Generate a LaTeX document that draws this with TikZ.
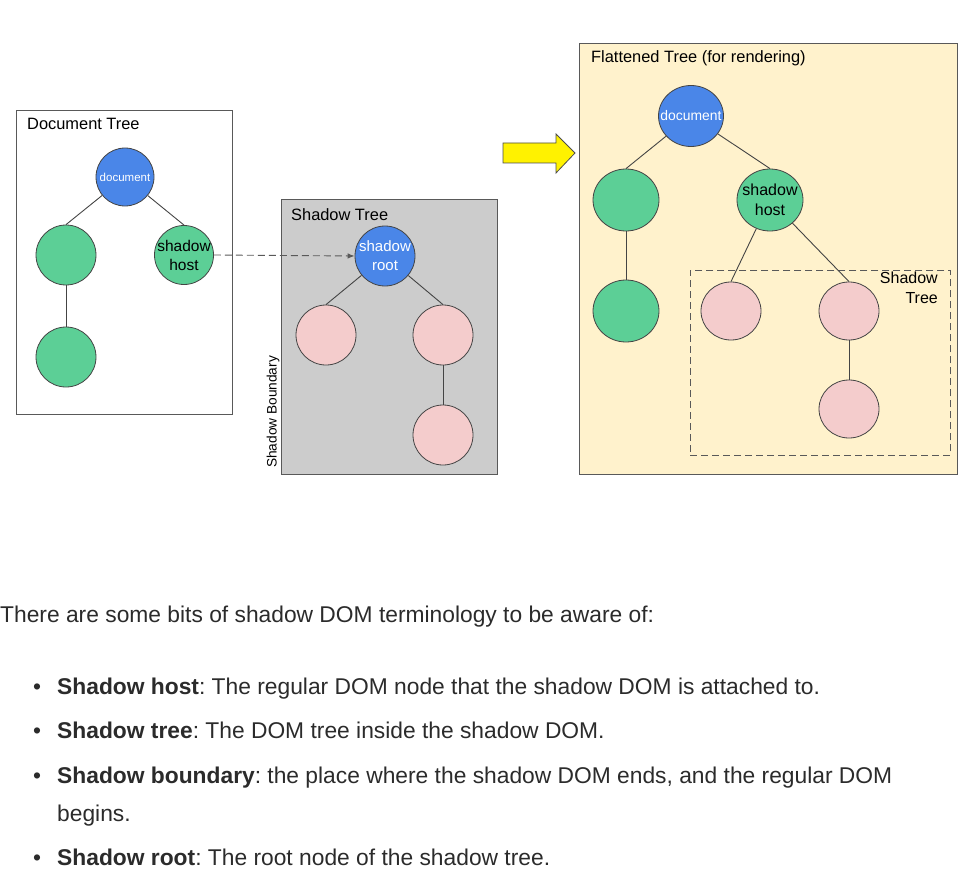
\documentclass[tikz,border=0pt]{standalone}
\usepackage{fontspec}
\setmainfont{Liberation Sans}
\usetikzlibrary{arrows.meta,shapes.geometric}
\definecolor{nblue}{HTML}{4A86E8}
\definecolor{ngreen}{HTML}{5CCF96}
\definecolor{npink}{HTML}{F4CCCC}
\definecolor{sgray}{HTML}{CCCCCC}
\definecolor{fyellow}{HTML}{FFF2CC}
\definecolor{txt}{HTML}{2B2B2B}
\definecolor{edge}{HTML}{444444}
\frenchspacing
\begin{document}
\begin{tikzpicture}[x=1pt,y=-1pt,
  tn/.style={ellipse,draw=edge,line width=0.8pt,inner sep=0pt},
  bn/.style={tn,fill=nblue},
  gn/.style={tn,fill=ngreen},
  pn/.style={tn,fill=npink},
  frame/.style={draw=black!65,line width=0.8pt,anchor=north west,inner sep=0pt},
  lbl/.style={anchor=base west,inner sep=0pt,font=\fontsize{16.4}{19}\selectfont},
  ed/.style={draw=edge,line width=0.9pt},
  body/.style={anchor=base west,inner sep=0pt,text=txt,font=\fontsize{22.8}{26}\selectfont},
]
\useasboundingbox (0,0) rectangle (975,888);
% Document tree
\node[frame,minimum width=216pt,minimum height=304pt] (dtbox) at (16,110) {};
\node[lbl] (dtl) at (27,130) {Document Tree};
\node[bn,minimum width=58pt,minimum height=58pt,
  label={[inner sep=0pt,text=white,font=\fontsize{11.5}{12}\selectfont]center:document}] (d1) at (125,177) {};
\node[gn,minimum width=60pt,minimum height=60pt] (d2) at (66,255) {};
\node[gn,minimum width=60pt,minimum height=60pt] (d3) at (66,357) {};
\node[gn,minimum width=59pt,minimum height=59pt,
  label={[inner sep=0pt,align=center,font=\fontsize{15.5}{19}\selectfont]center:shadow\\host}] (d4) at (184,255) {};
\draw[ed] (d1) -- (d2.north);
\draw[ed] (d1) -- (d4.north);
\draw[ed] (d2) -- (d3);
% Shadow tree
\node[frame,fill=sgray,minimum width=216pt,minimum height=275pt] (stbox) at (281,199) {};
\node[lbl] (stl) at (291,220) {Shadow Tree};
\node[anchor=center,rotate=90,inner sep=0pt,font=\fontsize{13.7}{15}\selectfont] (sbl) at (273,412) {Shadow Boundary};
\node[bn,minimum width=60pt,minimum height=60pt,
  label={[inner sep=0pt,align=center,text=white,font=\fontsize{15}{19}\selectfont]center:shadow\\root}] (s1) at (385,256) {};
\node[pn,minimum width=60pt,minimum height=60pt] (s2) at (326,335) {};
\node[pn,minimum width=60pt,minimum height=60pt] (s3) at (443,335) {};
\node[pn,minimum width=60pt,minimum height=60pt] (s4) at (443,435) {};
\draw[ed] (s1) -- (s2.north);
\draw[ed] (s1) -- (s3.north);
\draw[ed] (s3) -- (s4);
\draw[draw=black!65,line width=0.9pt,dash pattern=on 7pt off 4pt,-{Latex[length=7pt,width=5.5pt]}] (d4.east) -- (s1.west);
% Yellow arrow
\draw[fill=yellow,draw=black!70,line width=0.8pt] (503,143) -- (556,143) -- (556,134) -- (575,153) -- (556,173) -- (556,163) -- (503,163) -- cycle;
% Flattened tree
\node[frame,fill=fyellow,minimum width=378pt,minimum height=431pt] (ftbox) at (579,43) {};
\node[lbl] (ftl) at (591,63) {Flattened Tree (for rendering)};
\node[draw=black!65,line width=0.9pt,dash pattern=on 7pt off 4pt,anchor=north west,inner sep=0pt,minimum width=260pt,minimum height=185pt] (dbox) at (690,270) {};
\node[anchor=north east,align=right,inner sep=0pt,font=\fontsize{16}{19.5}\selectfont] (dboxl) at (938,272) {Shadow\\Tree};
\node[bn,minimum width=65pt,minimum height=61pt,
  label={[inner sep=0pt,text=white,font=\fontsize{13.9}{15}\selectfont]center:document}] (f1) at (691,116) {};
\node[gn,minimum width=66pt,minimum height=62pt] (f2) at (626,200) {};
\node[gn,minimum width=66pt,minimum height=62pt,
  label={[inner sep=0pt,align=center,font=\fontsize{16}{19.5}\selectfont]center:shadow\\host}] (f3) at (770,200) {};
\node[gn,minimum width=66pt,minimum height=62pt] (f4) at (626,311) {};
\node[pn,minimum width=60pt,minimum height=58pt] (f5) at (731,311) {};
\node[pn,minimum width=60pt,minimum height=58pt] (f6) at (849,311) {};
\node[pn,minimum width=60pt,minimum height=58pt] (f7) at (849,409) {};
\draw[ed] (f1) -- (f2.north);
\draw[ed] (f1) -- (f3.north);
\draw[ed] (f2) -- (f4);
\draw[ed] (f3) -- (f5.north);
\draw[ed] (f3) -- (f6.north);
\draw[ed] (f6) -- (f7);
% Text
\node[body] (p0) at (0,622) {There are some bits of shadow DOM terminology to be aware of:};
\node[body] (b1) at (33,694) {•};
\node[body] (t1) at (57,694) {\textbf{Shadow host}: The regular DOM node that the shadow DOM is attached to.};
\node[body] (b2) at (33,738) {•};
\node[body] (t2) at (57,738) {\textbf{Shadow tree}: The DOM tree inside the shadow DOM.};
\node[body] (b3) at (33,783) {•};
\node[body] (t3) at (57,783) {\textbf{Shadow boundary}: the place where the shadow DOM ends, and the regular DOM};
\node[body] (t3b) at (57,821) {begins.};
\node[body] (b4) at (33,865) {•};
\node[body] (t4) at (57,865) {\textbf{Shadow root}: The root node of the shadow tree.};
\end{tikzpicture}
\end{document}
